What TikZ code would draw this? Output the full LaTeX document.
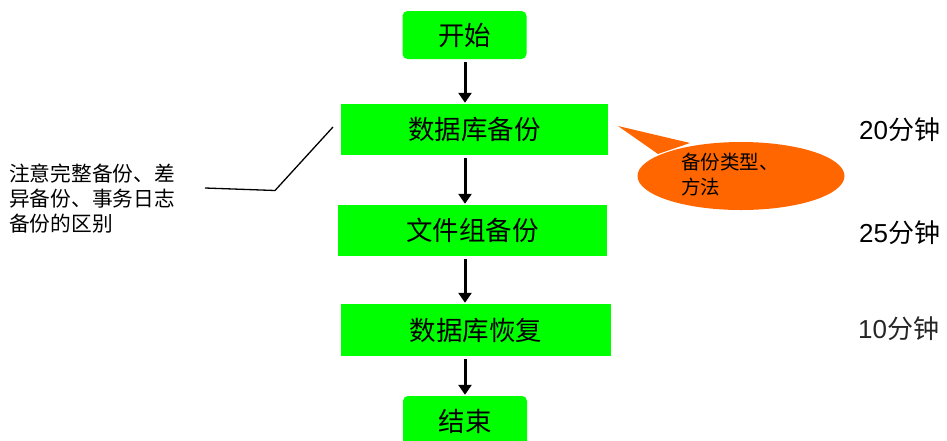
\documentclass[tikz,border=0pt]{standalone}
\usepackage{fontspec}
\setmainfont{Liberation Sans}
\newfontfamily\cjk{Noto Sans CJK SC}
\usetikzlibrary{arrows.meta}
\definecolor{boxgreen}{HTML}{00FF00}
\definecolor{calloutorange}{HTML}{FF6600}
\begin{document}
\begin{tikzpicture}[x=1pt,y=-1pt,
  stepbox/.style={fill=boxgreen,draw=none,inner sep=0pt,font=\cjk\fontsize{26.5}{30}\selectfont,text=black},
  termbox/.style={stepbox,rounded corners=5pt},
  arr/.style={line width=3pt,-{Triangle[length=10pt,width=13pt]},shorten <=3pt,shorten >=1pt},
  notetext/.style={font=\cjk\fontsize{20.7}{25}\selectfont,align=left,inner sep=0pt},
  calltext/.style={font=\cjk\fontsize{19.5}{25}\selectfont,align=left,inner sep=0pt},
  timetext/.style={font=\fontsize{26}{30}\selectfont,inner sep=0pt,anchor=west}
]
\useasboundingbox (0,0) rectangle (947,440);
\clip (0,0) rectangle (947,440);

\node[termbox,minimum width=124pt,minimum height=48pt] (start) at (464.5,35) {开始};
\node[stepbox,minimum width=267pt,minimum height=51pt] (db) at (474.5,129.5) {数据库备份};
\node[stepbox,minimum width=269pt,minimum height=51pt] (fg) at (472.5,230.5) {文件组备份};
\node[stepbox,minimum width=270pt,minimum height=52pt] (rec) at (476,330) {数据库恢复};
\node[termbox,minimum width=124pt,minimum height=50pt] (end) at (465,421) {结束};

\coordinate (a1) at (465,0);
\draw[arr] (start.south -| a1) -- (db.north -| a1);
\draw[arr] (db.south -| a1) -- (fg.north -| a1);
\draw[arr] (fg.south -| a1) -- (rec.north -| a1);
\draw[arr] (rec.south -| a1) -- (end.north -| a1);

% left note
\node[notetext,anchor=west] (note) at (9,198.5) {注意完整备份、差\\异备份、事务日志\\备份的区别};
\coordinate (n1) at (205,188);
\coordinate (n2) at (275,190.5);
\coordinate (n3) at (333,127);
\draw[line width=1.3pt] (n1) -- (n2) -- (n3);

% callout
\coordinate (ctip) at (618,126);
\coordinate (cb1) at (658,154);
\coordinate (cb2) at (690,143);
\fill[calloutorange] (ctip) -- (cb1) -- (cb2) -- cycle;
\fill[calloutorange] (741,176) ellipse [x radius=103.5, y radius=34];
\node[calltext,anchor=north west] (call) at (681,153) {备份类型、\\方法};

% times
\node[timetext] (t1) at (859,130) {20{\cjk 分钟}};
\node[timetext] (t2) at (859,233) {25{\cjk 分钟}};
\node[timetext,text=black!85] (t3) at (858,329) {10{\cjk 分钟}};
\end{tikzpicture}
\end{document}
